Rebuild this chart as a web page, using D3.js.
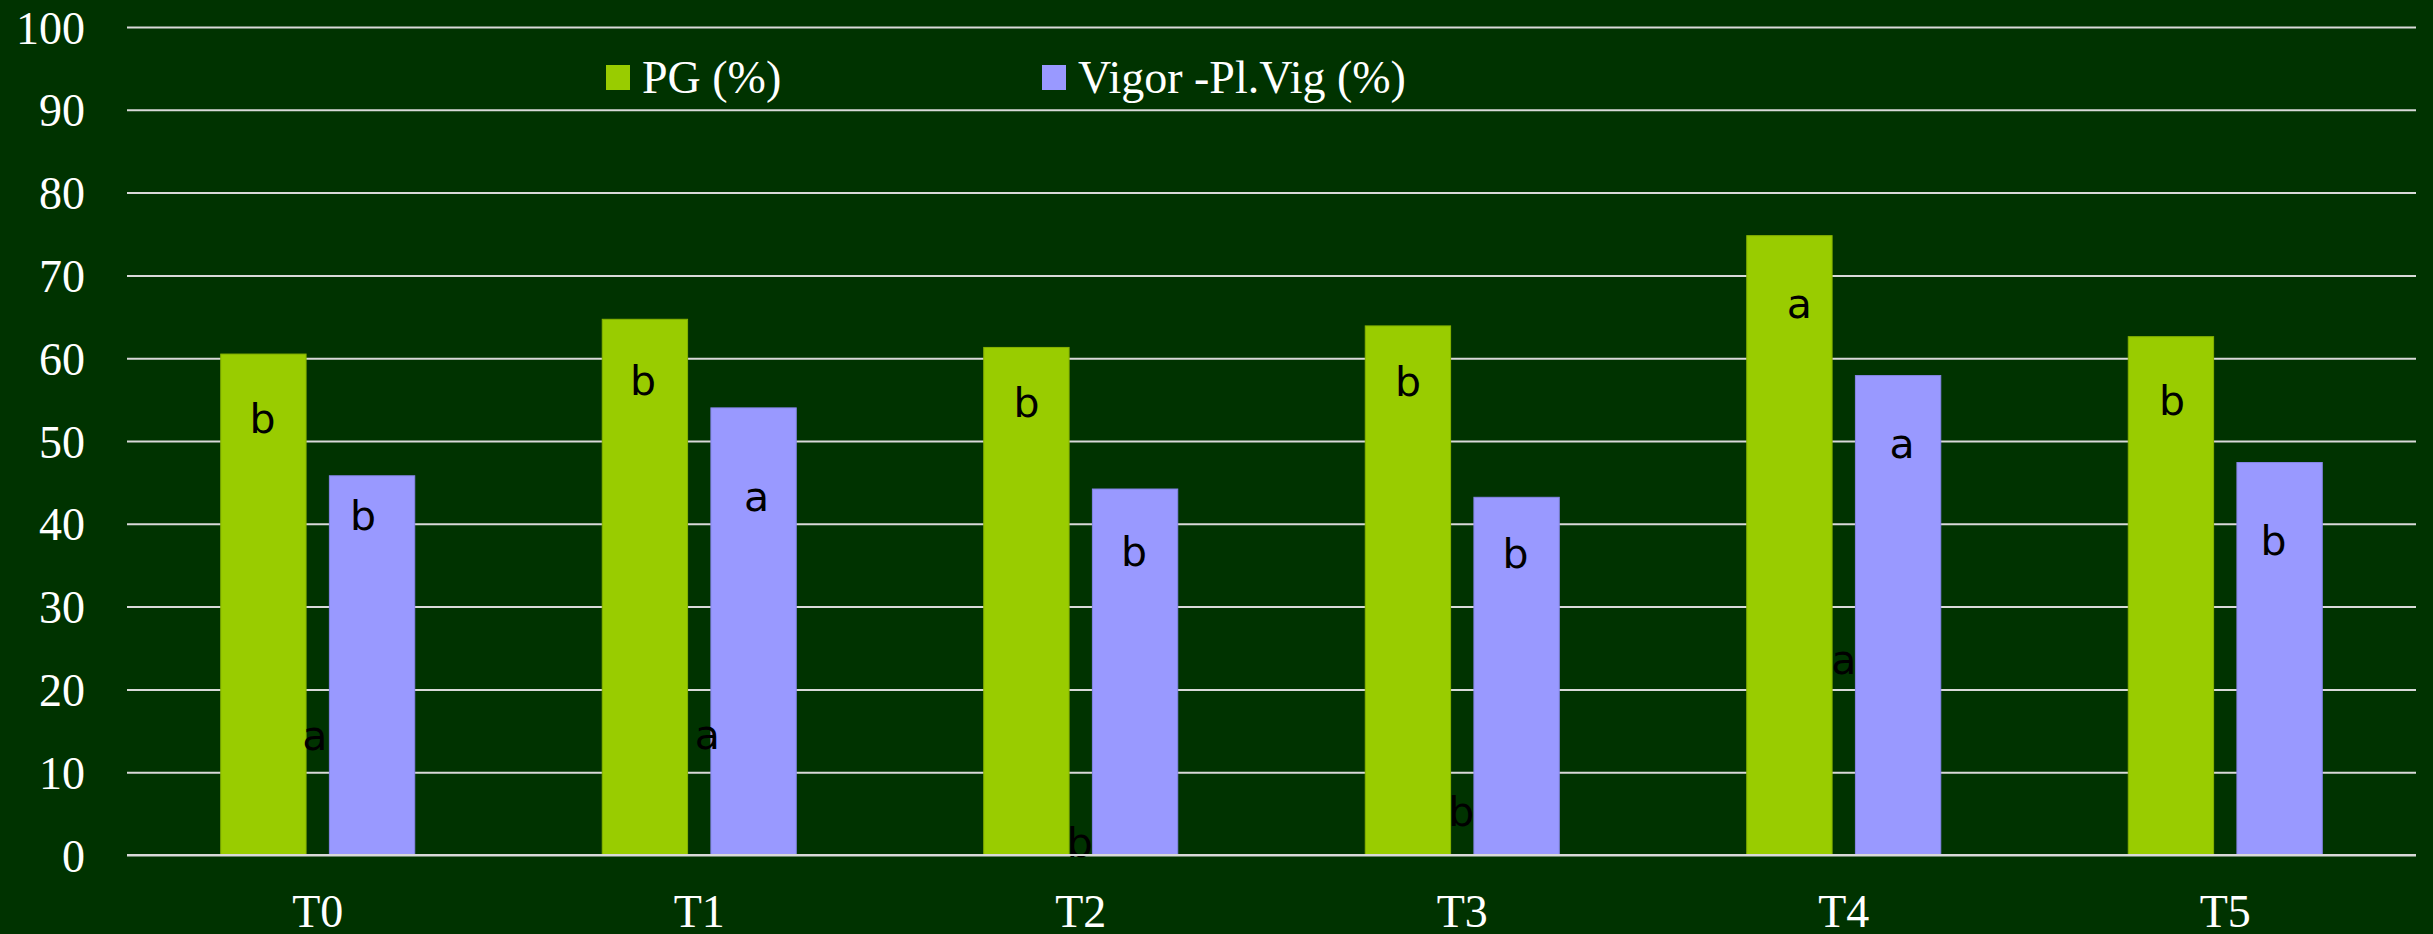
<!DOCTYPE html>
<html>
<head>
<meta charset="utf-8">
<script src="https://cdn.jsdelivr.net/npm/d3@7"></script>
<style>
  html, body { margin: 0; padding: 0; background: #003300; }
  svg { display: block; }
</style>
</head>
<body>
<svg id="chart" width="2433" height="934"></svg>
<script>
// Treatments and measured percentages
const categories = ["T0", "T1", "T2", "T3", "T4", "T5"];
const seriesKeys = ["pg", "vigor"];
const seriesNames = ["PG (%)", "Vigor -Pl.Vig (%)"];
const pgValues = [60.5, 64.7, 61.3, 63.9, 74.8, 62.6];
const vigorValues = [45.8, 54.0, 44.2, 43.2, 57.9, 47.4];

// Significance letters and the axis level at which each one sits
const pgLetters = ["b", "b", "b", "b", "a", "b"];
const vigorLetters = ["b", "a", "b", "b", "a", "b"];
const lowerLetters = ["a", "a", "b", "b", "a", ""];
const pgLetterLevel = [51.0, 55.6, 52.9, 55.4, 64.9, 53.1];
const vigorLetterLevel = [39.3, 41.5, 34.9, 34.7, 48.0, 36.2];
const lowerLetterLevel = [12.7, 12.8, -0.2, 3.5, 21.8, 0];

const yTicks = [0, 10, 20, 30, 40, 50, 60, 70, 80, 90, 100];

// Layout: small horizontal shifts (px) of the hand-placed letters
const pgLetterShift = [-1, -2, 0, 0, 10, 1];
const vigorLetterShift = [-9, 3, -1, -1, 4, -6];
const lowerLetterShift = [-3, 8, -1, -1, 0, 0];

const colors = { pg: "#99cc00", vigor: "#9999ff" };
const strokes = { pg: "#86b300", vigor: "#8686e8" };
const serif = "'Liberation Serif', 'Times New Roman', serif";
const sans = "'DejaVu Sans', sans-serif";

const svg = d3.select("#chart");
const plotLeft = 127, plotRight = 2416, plotTop = 27, plotBottom = 855;

svg.append("rect").attr("width", 2433).attr("height", 934).attr("fill", "#003300");

const x0 = d3.scaleBand()
  .domain(categories)
  .range([plotLeft, plotRight])
  .paddingInner(0.4915)
  .paddingOuter(0.2457);

const x1 = d3.scaleBand()
  .domain(seriesKeys)
  .range([0, x0.bandwidth()])
  .paddingInner(0.2146);

const y = d3.scaleLinear().domain([0, 100]).range([plotBottom, plotTop]);

// Horizontal gridlines and value labels
const yAxis = svg.append("g")
  .attr("transform", `translate(${plotLeft},0)`)
  .call(d3.axisLeft(y).tickValues(yTicks).tickSize(-(plotRight - plotLeft)).tickPadding(42));
yAxis.select(".domain").remove();
yAxis.selectAll(".tick line").attr("stroke", "#d9d9d9").attr("stroke-width", 2);
yAxis.selectAll(".tick text")
  .attr("fill", "#ffffff")
  .attr("font-family", serif)
  .attr("font-size", 46)
  .attr("dy", "0.35em");

// Category labels
const xAxis = svg.append("g")
  .attr("transform", `translate(0,${plotBottom})`)
  .call(d3.axisBottom(x0).tickSize(0).tickPadding(39));
xAxis.select(".domain").remove();
xAxis.selectAll(".tick text")
  .attr("fill", "#ffffff")
  .attr("font-family", serif)
  .attr("font-size", 46);

// Grouped bars
const shifts = { pg: pgLetterShift, vigor: vigorLetterShift };
const rows = categories.map((c, i) => ({
  cat: c,
  idx: i,
  values: [
    { key: "pg", idx: i, value: pgValues[i], letter: pgLetters[i], level: pgLetterLevel[i] },
    { key: "vigor", idx: i, value: vigorValues[i], letter: vigorLetters[i], level: vigorLetterLevel[i] }
  ],
  lower: lowerLetters[i],
  lowerLevel: lowerLetterLevel[i]
}));

const groups = svg.append("g").selectAll("g")
  .data(rows)
  .join("g")
  .attr("transform", d => `translate(${x0(d.cat)},0)`);

groups.selectAll("rect")
  .data(d => d.values)
  .join("rect")
  .attr("x", d => x1(d.key))
  .attr("y", d => y(d.value))
  .attr("width", x1.bandwidth())
  .attr("height", d => y(0) - y(d.value))
  .attr("fill", d => colors[d.key])
  .attr("stroke", d => strokes[d.key])
  .attr("stroke-width", 1);

// Redraw the zero line over the bar bases
svg.append("line")
  .attr("x1", plotLeft).attr("x2", plotRight)
  .attr("y1", y(0)).attr("y2", y(0))
  .attr("stroke", "#d9d9d9").attr("stroke-width", 2);

// Letters inside the bars
groups.selectAll("text.bar-letter")
  .data(d => d.values)
  .join("text")
  .attr("class", "bar-letter")
  .attr("x", d => x1(d.key) + x1.bandwidth() / 2 + shifts[d.key][d.idx])
  .attr("y", d => y(d.level))
  .attr("text-anchor", "middle")
  .attr("font-family", sans)
  .attr("font-size", 41)
  .attr("fill", "#000000")
  .text(d => d.letter);

// Letters between the paired bars
groups.filter(d => d.lower !== "")
  .append("text")
  .attr("x", d => x0.bandwidth() / 2 + lowerLetterShift[d.idx])
  .attr("y", d => y(d.lowerLevel))
  .attr("text-anchor", "middle")
  .attr("font-family", sans)
  .attr("font-size", 41)
  .attr("fill", "#000000")
  .text(d => d.lower);

// Legend
const legendX = [606, 1042];
const legend = svg.append("g").selectAll("g")
  .data(seriesKeys)
  .join("g")
  .attr("transform", (d, i) => `translate(${legendX[i]},65)`);
legend.append("rect")
  .attr("width", 24).attr("height", 25)
  .attr("fill", d => colors[d]);
legend.append("text")
  .attr("x", 36).attr("y", 28)
  .attr("fill", "#ffffff")
  .attr("font-family", serif)
  .attr("font-size", 46)
  .text((d, i) => seriesNames[i]);
</script>
</body>
</html>
